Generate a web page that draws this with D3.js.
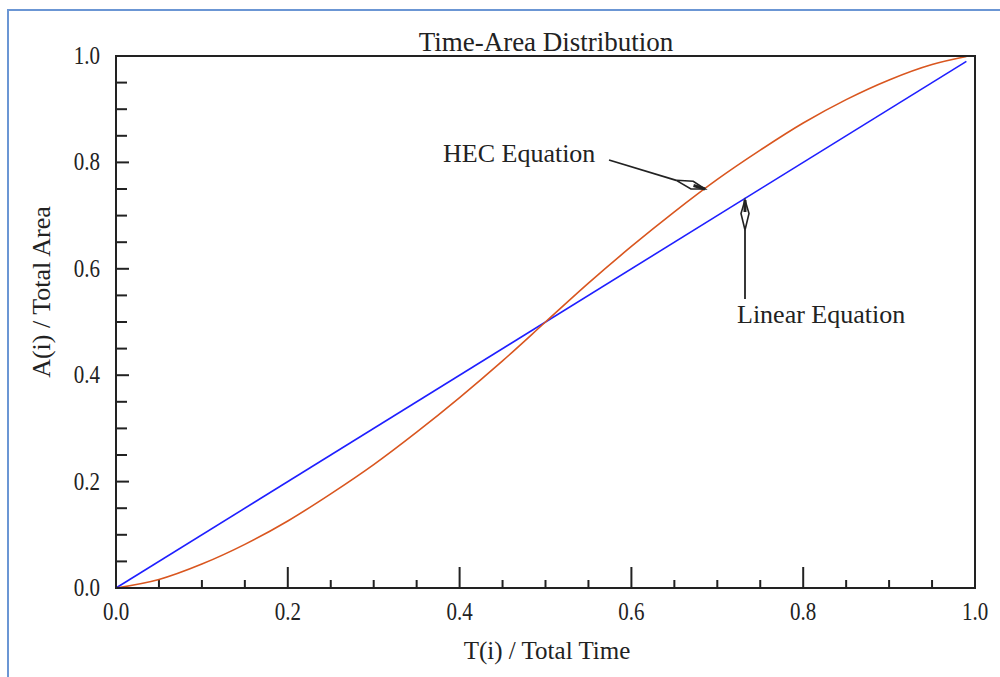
<!DOCTYPE html>
<html>
<head>
<meta charset="utf-8">
<script src="https://cdn.jsdelivr.net/npm/d3@7"></script>
<style>
  body { margin: 0; background: #fff; }
  text { font-family: "Liberation Serif", "Times New Roman", serif; fill: #222; }
</style>
</head>
<body>
<svg id="chart" width="1000" height="677"></svg>
<script>
// values (fraction of total time / fraction of total area)
var timeFrac = [0, 0.05, 0.10, 0.15, 0.20, 0.25, 0.30, 0.35, 0.40, 0.45, 0.50,
                0.55, 0.60, 0.65, 0.70, 0.75, 0.80, 0.85, 0.90, 0.95, 0.99];
var hecArea  = [0, 0.016, 0.045, 0.082, 0.126, 0.177, 0.232, 0.293, 0.358, 0.427, 0.500,
                0.573, 0.642, 0.707, 0.768, 0.823, 0.874, 0.918, 0.955, 0.984, 0.999];
var linearT    = [0, 0.99];
var linearArea = [0, 0.99];
var majorTicks = [0, 0.2, 0.4, 0.6, 0.8, 1.0];
var minorTicks = d3.range(0, 1.0001, 0.05);

var svg = d3.select('#chart');
// note: "top" is taken by window.top, so use plot* names
var plotLeft = 116, plotTop = 56, plotRight = 975, plotBottom = 588;

var x = d3.scaleLinear().domain([0, 1]).range([plotLeft, plotRight]);
var y = d3.scaleLinear().domain([0, 1]).range([plotBottom, plotTop]);

// outer blue frame (only top and left edges show)
svg.append('path')
  .attr('d', 'M8,680 L8,10 L1005,10')
  .attr('fill', 'none')
  .attr('stroke', '#6b96d4')
  .attr('stroke-width', 2);

// ticks
var fmt = d3.format('.1f');
function isMajor(v) { return Math.abs(v * 5 - Math.round(v * 5)) < 1e-6; }
var innerTicks = minorTicks.filter(function(v) { return v > 0.001 && v < 0.999; });

svg.append('g').selectAll('line')
  .data(innerTicks)
  .join('line')
  .attr('x1', function(d) { return x(d); })
  .attr('x2', function(d) { return x(d); })
  .attr('y1', plotBottom)
  .attr('y2', function(d) { return plotBottom - (isMajor(d) ? 21 : 8); })
  .attr('stroke', '#222').attr('stroke-width', 2);

svg.append('g').selectAll('line')
  .data(innerTicks)
  .join('line')
  .attr('x1', plotLeft)
  .attr('x2', function(d) { return plotLeft + (isMajor(d) ? 13 : 11); })
  .attr('y1', function(d) { return y(d); })
  .attr('y2', function(d) { return y(d); })
  .attr('stroke', '#222').attr('stroke-width', 2);

// tick labels (glyphs are a bit taller than wide in the picture)
svg.append('g').selectAll('text')
  .data(majorTicks)
  .join('text')
  .attr('transform', function(d) { return 'translate(' + x(d) + ',620) scale(1,1.2)'; })
  .attr('text-anchor', 'middle')
  .attr('font-size', 21)
  .text(fmt);

svg.append('g').selectAll('text')
  .data(majorTicks)
  .join('text')
  .attr('transform', function(d) { return 'translate(100,' + (y(d) + 8) + ') scale(1,1.2)'; })
  .attr('text-anchor', 'end')
  .attr('font-size', 21)
  .text(fmt);

// curves
var line = d3.line()
  .x(function(d) { return x(d[0]); })
  .y(function(d) { return y(d[1]); })
  .curve(d3.curveMonotoneX);

svg.append('path')
  .datum(d3.zip(linearT, linearArea))
  .attr('d', line)
  .attr('fill', 'none')
  .attr('stroke', '#1f1fff')
  .attr('stroke-width', 1.6);

svg.append('path')
  .datum(d3.zip(timeFrac, hecArea))
  .attr('d', line)
  .attr('fill', 'none')
  .attr('stroke', '#d9561f')
  .attr('stroke-width', 1.6);

// plot frame
svg.append('rect')
  .attr('x', plotLeft).attr('y', plotTop)
  .attr('width', plotRight - plotLeft).attr('height', plotBottom - plotTop)
  .attr('fill', 'none')
  .attr('stroke', '#222')
  .attr('stroke-width', 2);

// titles
svg.append('text')
  .attr('x', 546).attr('y', 51)
  .attr('text-anchor', 'middle')
  .attr('font-size', 27)
  .text('Time-Area Distribution');

svg.append('text')
  .attr('x', 547).attr('y', 659)
  .attr('text-anchor', 'middle')
  .attr('font-size', 25)
  .text('T(i) / Total Time');

svg.append('text')
  .attr('transform', 'translate(50,292) rotate(-90)')
  .attr('text-anchor', 'middle')
  .attr('font-size', 26)
  .text('A(i) / Total Area');

// annotations with hollow arrowheads
function arrow(x0, y0, x1, y1) {
  var dx = x1 - x0, dy = y1 - y0, len = Math.sqrt(dx * dx + dy * dy);
  var ux = dx / len, uy = dy / len, px = -uy, py = ux;
  var hl = 30, hw = 4;
  var bx = x1 - ux * hl, by = y1 - uy * hl;
  svg.append('line')
    .attr('x1', x0).attr('y1', y0).attr('x2', bx).attr('y2', by)
    .attr('stroke', '#222').attr('stroke-width', 1.8);
  var mx = x1 - ux * hl * 0.45, my = y1 - uy * hl * 0.45;
  var pts = [[x1, y1], [mx + px * hw, my + py * hw], [bx, by], [mx - px * hw, my - py * hw]];
  svg.append('polygon')
    .attr('points', pts.map(function(p) { return p.join(','); }).join(' '))
    .attr('fill', '#fff')
    .attr('stroke', '#222')
    .attr('stroke-width', 1.6);
  svg.append('line')
    .attr('x1', x1).attr('y1', y1)
    .attr('x2', x1 - ux * 12).attr('y2', y1 - uy * 12)
    .attr('stroke', '#222').attr('stroke-width', 3);
}

svg.append('text')
  .attr('x', 443).attr('y', 162)
  .attr('font-size', 26)
  .text('HEC Equation');
arrow(609, 160, 705, 189);

svg.append('text')
  .attr('x', 737).attr('y', 323)
  .attr('font-size', 26)
  .text('Linear Equation');
arrow(745, 299, 745, 200);
</script>
</body>
</html>
